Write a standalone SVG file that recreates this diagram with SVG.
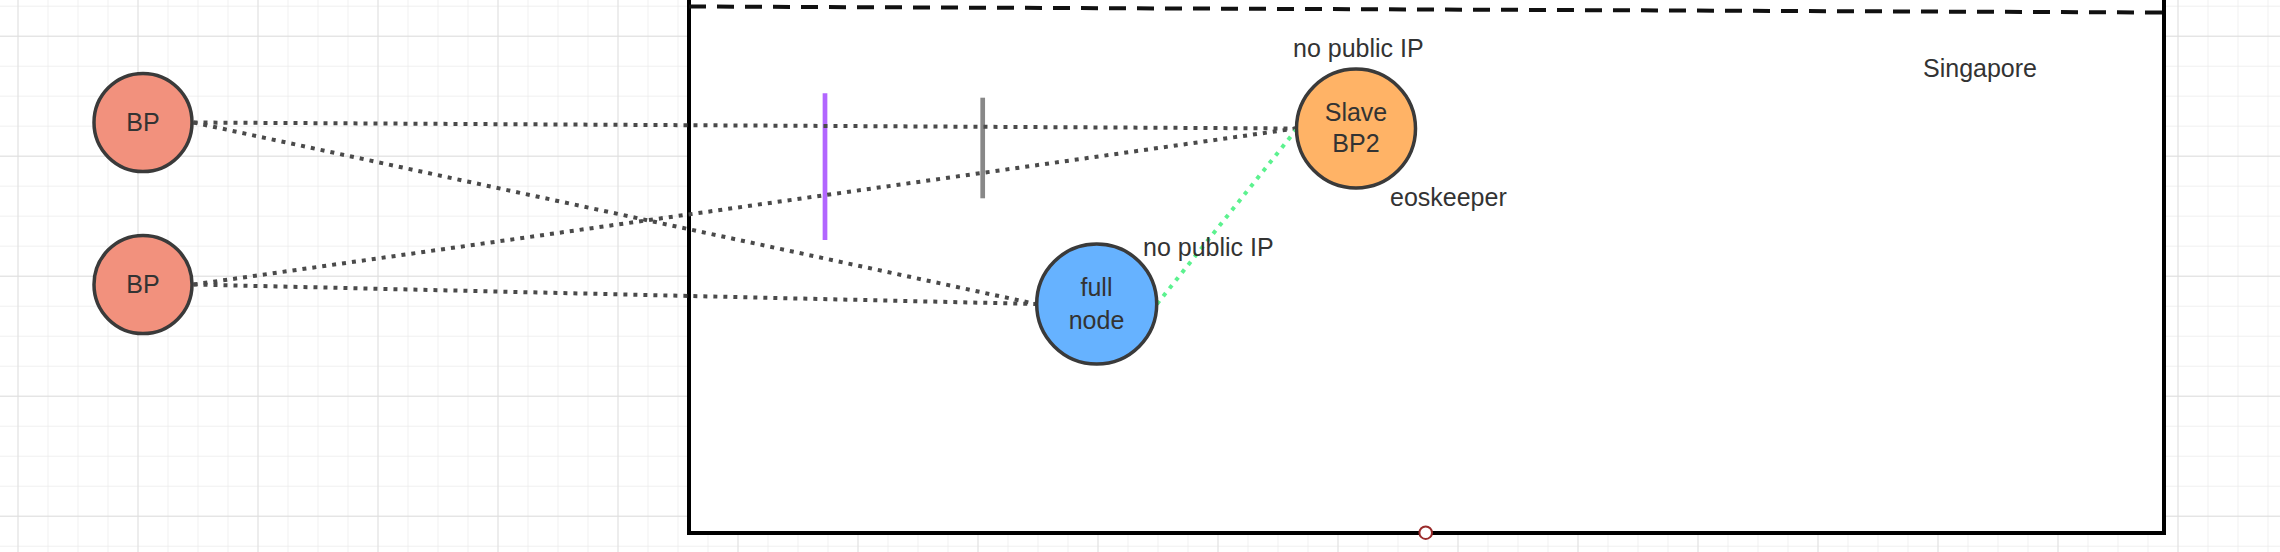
<svg xmlns="http://www.w3.org/2000/svg" width="2280" height="552" viewBox="0 0 2280 552">
  <defs>
    <pattern id="gridMinor" x="17.5" y="5.7" width="30" height="30" patternUnits="userSpaceOnUse">
      <path d="M0 0 H30 M0 0 V30" fill="none" stroke="#ebebeb" stroke-width="1.3"/>
    </pattern>
    <pattern id="gridMajor" x="17.5" y="35.7" width="120" height="120" patternUnits="userSpaceOnUse">
      <path d="M0 0 H120 M0 0 V120" fill="none" stroke="#dfdfdf" stroke-width="1.8"/>
    </pattern>
  </defs>
  <style>
    .lbl { font-family: "Liberation Sans", Arial, Helvetica, sans-serif; font-size: 25px; fill: #333333; }
    .mid { text-anchor: middle; }
    .node { stroke: #3a3a3a; stroke-width: 3.5; }
    .conn { fill: none; stroke: #4a4a4a; stroke-width: 4; stroke-dasharray: 4 6; }
    .green { stroke: #5cf28f; }
  </style>

  <rect width="2280" height="552" fill="#ffffff"/>
  <rect width="2280" height="552" fill="url(#gridMinor)"/>
  <rect width="2280" height="552" fill="url(#gridMajor)"/>

  <g id="region-singapore">
    <rect x="689" y="-10" width="1475" height="543" fill="#ffffff" stroke="#000000" stroke-width="4"/>
    <line x1="689" y1="6.5" x2="2164" y2="12.5" stroke="#111111" stroke-width="4" stroke-dasharray="17 11"/>
    <text class="lbl mid" x="1980" y="77">Singapore</text>
    <circle cx="1425.7" cy="532.7" r="6.3" fill="#ffffff" stroke="#9a2b2b" stroke-width="2"/>
  </g>

  <g id="markers">
    <line x1="825" y1="93.3" x2="825" y2="240" stroke="#b266ff" stroke-width="4.7"/>
    <line x1="982.7" y1="97.7" x2="982.7" y2="198.3" stroke="#888888" stroke-width="4.7"/>
  </g>

  <g id="connectors">
    <line class="conn" x1="193.5" y1="122.5" x2="1296" y2="128.5"/>
    <line class="conn" x1="193.5" y1="122.5" x2="1036" y2="304"/>
    <line class="conn" x1="193.5" y1="284.5" x2="1296" y2="128.5"/>
    <line class="conn" x1="193.5" y1="284.5" x2="1036" y2="304"/>
    <line class="conn green" x1="1157" y1="304" x2="1296" y2="130"/>
  </g>

  <g id="bp1">
    <circle class="node" cx="143" cy="122.5" r="49" fill="#f2917d"/>
    <text class="lbl mid" x="143" y="131">BP</text>
  </g>

  <g id="bp2">
    <circle class="node" cx="143" cy="284.5" r="49" fill="#f2917d"/>
    <text class="lbl mid" x="143" y="293">BP</text>
  </g>

  <g id="slave-bp2">
    <circle class="node" cx="1356" cy="128.5" r="59.5" fill="#ffb366"/>
    <text class="lbl mid" x="1356" y="120.7">Slave</text>
    <text class="lbl mid" x="1356" y="151.7">BP2</text>
    <text class="lbl" x="1293" y="56.7">no public IP</text>
    <text class="lbl" x="1390" y="205.7">eoskeeper</text>
  </g>

  <g id="full-node">
    <circle class="node" cx="1096.7" cy="304" r="60" fill="#66b2ff"/>
    <text class="lbl mid" x="1096.5" y="296">full</text>
    <text class="lbl mid" x="1096.5" y="329">node</text>
    <text class="lbl" x="1143" y="256">no public IP</text>
  </g>
</svg>
